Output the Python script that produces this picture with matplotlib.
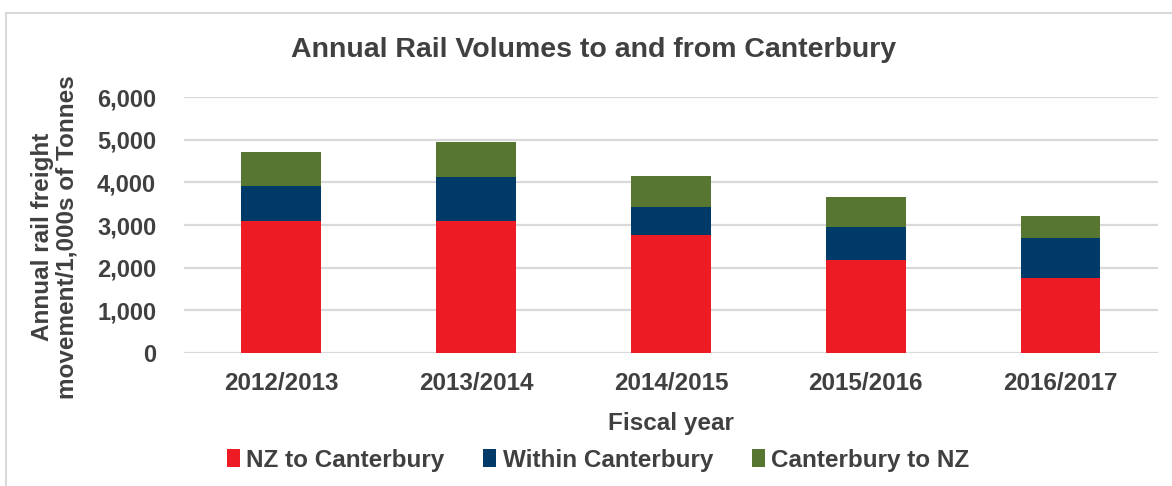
import matplotlib.pyplot as plt
import numpy as np
from matplotlib.patches import Rectangle

plt.rcParams['font.family'] = ['Liberation Sans', 'DejaVu Sans']
plt.rcParams['font.weight'] = 'bold'
plt.rcParams['axes.labelweight'] = 'bold'

years = ['2012/2013', '2013/2014', '2014/2015', '2015/2016', '2016/2017']
nz_to_cant = [3090, 3100, 2770, 2180, 1750]
within_cant = [820, 1020, 660, 780, 940]
cant_to_nz = [810, 830, 720, 690, 530]

series = [
    ('NZ to Canterbury', nz_to_cant, '#ED1C24'),
    ('Within Canterbury', within_cant, '#003A68'),
    ('Canterbury to NZ', cant_to_nz, '#577632'),
]
text_col = '#404040'

fig = plt.figure(figsize=(11.72, 4.86), dpi=100)
ax = fig.add_axes([0.157, 0.274, 0.831, 0.526])

x = np.arange(len(years))
bottom = np.zeros(len(years))
for name, vals, col in series:
    ax.bar(x, vals, 0.41, bottom=bottom, color=col, label=name, zorder=3)
    bottom += np.array(vals)

ax.set_xlim(-0.5, len(years) - 0.5)
ax.set_ylim(0, 6000)
ax.set_yticks(range(0, 6001, 1000))
ax.set_yticklabels([f'{v:,}' for v in range(0, 6001, 1000)])
ax.set_xticks(x)
ax.set_xticklabels(years)
ax.tick_params(length=0, colors=text_col)
ax.tick_params(axis='x', labelsize=17.5, pad=14)
ax.tick_params(axis='y', labelsize=17, pad=20)
ax.grid(axis='y', color='#d9d9d9', linewidth=1.6, zorder=0)
for s in ax.spines.values():
    s.set_visible(False)

fig.text(594 / 1172, 1 - 50 / 486, 'Annual Rail Volumes to and from Canterbury',
         fontsize=20.5, color=text_col, fontweight='bold', ha='center', va='center')
ax.set_xlabel('Fiscal year', fontsize=17.5, color=text_col, labelpad=12)
ax.set_ylabel('Annual rail freight\nmovement/1,000s of Tonnes', fontsize=17.5,
              color=text_col, linespacing=1.1)
ax.yaxis.set_label_coords(-0.108, 0.453)

leg = fig.legend(loc='center', bbox_to_anchor=(598 / 1172, 1 - 460 / 486), ncol=3, frameon=False,
                 fontsize=17.5, handlelength=0.55, handleheight=0.8, handletextpad=0.25,
                 columnspacing=1.6)
for t in leg.get_texts():
    t.set_color(text_col)

# outer chart border (only top and left edges fall inside the picture)
fig.patches.append(Rectangle((6 / 1172, -0.1), 1.2, 1.1 - 13 / 486, transform=fig.transFigure,
                             fill=False, edgecolor='#d9d9d9', linewidth=1.5))

fig.savefig('out.png', dpi=100)
